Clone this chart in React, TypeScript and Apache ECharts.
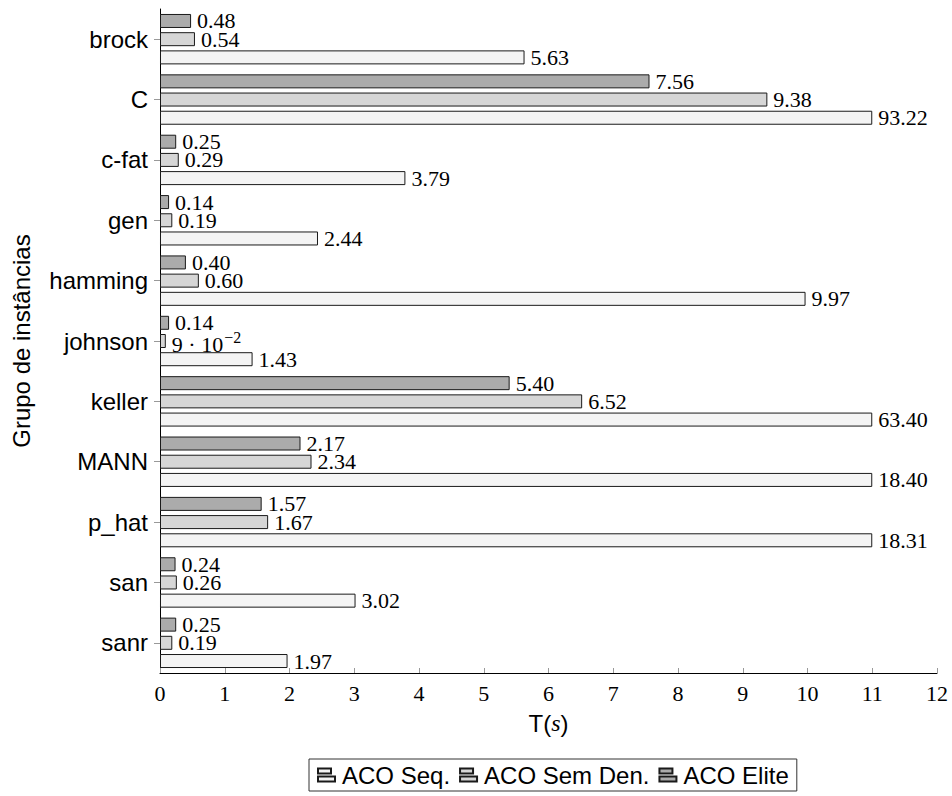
import React, { useEffect, useRef } from "react";
import * as echarts from "echarts";

const categories = ["brock", "C", "c-fat", "gen", "hamming", "johnson", "keller", "MANN", "p_hat", "san", "sanr"];
const seqValues = [5.63, 93.22, 3.79, 2.44, 9.97, 1.43, 63.4, 18.4, 18.31, 3.02, 1.97];
const semDenValues = [0.54, 9.38, 0.29, 0.19, 0.6, 0.09, 6.52, 2.34, 1.67, 0.26, 0.19];
const eliteValues = [0.48, 7.56, 0.25, 0.14, 0.4, 0.14, 5.4, 2.17, 1.57, 0.24, 0.25];
const seriesNames = ["ACO Seq.", "ACO Sem Den.", "ACO Elite"];
const X_MIN = 0;
const X_MAX = 12;
const X_CLIP = 11;

const SERIF = "'Liberation Serif', 'DejaVu Serif', serif";
const SANS = "'Liberation Sans', Arial, sans-serif";

function fmt(v: number): string {
  if (v < 0.1) {
    return `{n|${Math.round(v * 100)} · 10}{sup|−2}`;
  }
  return v.toFixed(2);
}

function makeSeries(name: string, values: number[], color: string) {
  return {
    name,
    type: "bar",
    barWidth: 14,
    barGap: "30%",
    data: values.map((v) => Math.min(v, X_CLIP)),
    itemStyle: { color, borderColor: "#1a1a1a", borderWidth: 1 },
    label: {
      show: true,
      position: "right",
      distance: 6,
      color: "#000",
      fontFamily: SERIF,
      fontSize: 22,
      lineHeight: 17,
      formatter: (p: any) => fmt(values[p.dataIndex]),
      rich: {
        n: { fontFamily: SERIF, fontSize: 22, lineHeight: 17, color: "#000", padding: [6, 0, 0, 0] },
        sup: { fontFamily: SERIF, fontSize: 16, lineHeight: 13, color: "#000", padding: [0, 0, 8, 1] },
      },
    },
    emphasis: { disabled: true },
  };
}

export default function App() {
  const ref = useRef<HTMLDivElement>(null);
  useEffect(() => {
    if (!ref.current) return;
    const chart = echarts.init(ref.current, undefined, { renderer: "svg" });
    chart.setOption({
      animation: false,
      grid: { left: 160, right: 15, top: 9, bottom: 123, containLabel: false },
      legend: {
        data: seriesNames,
        left: 309,
        top: 759,
        orient: "horizontal",
        icon: "path://M0 0H13V5H0Z M0 8H17V13H0Z",
        itemWidth: 17,
        itemHeight: 13,
        itemGap: 9,
        padding: [4, 8, 4, 8],
        borderColor: "#333",
        borderWidth: 1,
        textStyle: { fontFamily: SANS, fontSize: 24, color: "#000", padding: [0, 0, 0, 2] },
        selectedMode: false,
      },
      xAxis: {
        type: "value",
        min: X_MIN,
        max: X_MAX,
        interval: 1,
        name: "{a|T(}{b|s}{a|)}",
        nameLocation: "middle",
        nameGap: 38,
        nameTextStyle: {
          rich: {
            a: { fontFamily: SANS, fontSize: 24, color: "#000" },
            b: { fontFamily: SERIF, fontSize: 24, fontStyle: "italic", color: "#000" },
          },
        },
        axisLine: { show: true, lineStyle: { color: "#000", width: 1 } },
        axisTick: { show: true, inside: true, length: 5, lineStyle: { color: "#999" } },
        axisLabel: { fontFamily: SERIF, fontSize: 22, color: "#000", margin: 9 },
        splitLine: { show: false },
      },
      yAxis: {
        type: "category",
        data: categories,
        inverse: true,
        name: "Grupo de instâncias",
        nameLocation: "middle",
        nameRotate: 90,
        nameGap: 127,
        nameTextStyle: { fontFamily: SANS, fontSize: 24, color: "#000" },
        axisLine: { show: true, lineStyle: { color: "#000", width: 1 } },
        axisTick: { show: true, alignWithLabel: true, length: 6, lineStyle: { color: "#999" } },
        axisLabel: { fontFamily: SANS, fontSize: 24, color: "#000", margin: 12 },
      },
      series: [
        makeSeries(seriesNames[2], eliteValues, "#ababab"),
        makeSeries(seriesNames[1], semDenValues, "#d6d6d6"),
        makeSeries(seriesNames[0], seqValues, "#f4f4f4"),
      ],
    });
    return () => chart.dispose();
  }, []);
  return <div ref={ref} style={{ width: 952, height: 796, position: "absolute", left: 0, top: 0 }} />;
}
